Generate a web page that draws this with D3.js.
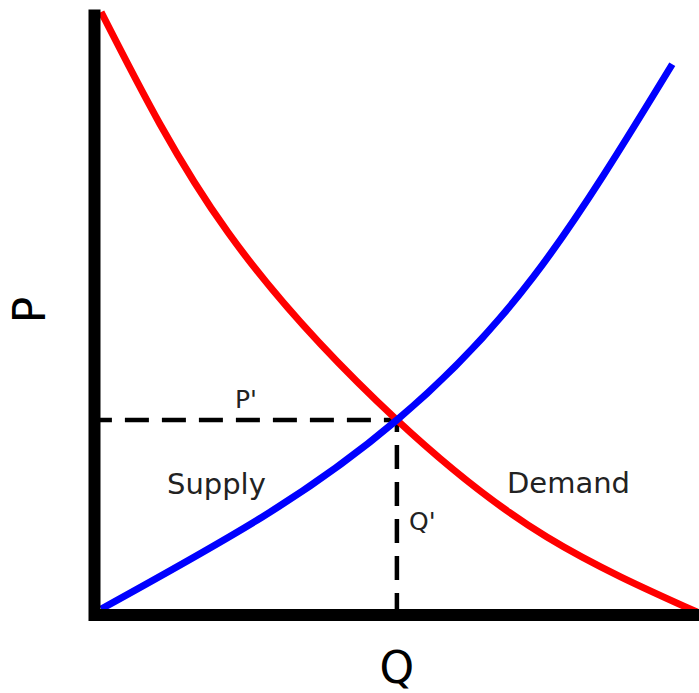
<!DOCTYPE html>
<html>
<head>
<meta charset="utf-8">
<script src="https://cdn.jsdelivr.net/npm/d3@7"></script>
<style>
  body { margin: 0; background: #fff; }
  text { font-family: "DejaVu Sans", sans-serif; }
</style>
</head>
<body>
<div id="vis"></div>
<script>
// Supply / demand diagram (arbitrary units 0..100)
var demandQ = [1.1, 22.3, 50.4, 75.4, 100.4];
var demandP = [100.5, 63.7, 32.5, 13.0, 0.5];

var supplyQ = [1.1, 27.9, 50.4, 73.1, 96.3];
var supplyP = [1.0, 16.3, 32.5, 56.3, 91.8];

var eqQ = 50.4, eqP = 32.5;   // equilibrium point
var axisLabels = ["Q", "P"];
var curveLabels = ["Supply", "Demand"];
var eqLabels = ["P'", "Q'"];

var width = 699, height = 693;

var x = d3.scaleLinear().domain([0, 100]).range([94.5, 694.5]);
var y = d3.scaleLinear().domain([0, 100]).range([615, 15]);

var svg = d3.select("#vis").append("svg")
    .attr("width", width)
    .attr("height", height);

var line = d3.line()
    .x(d => x(d[0]))
    .y(d => y(d[1]))
    .curve(d3.curveNatural);

// dashed guides from the equilibrium point back to each axis
svg.append("line")
    .attr("x1", x(eqQ)).attr("y1", y(eqP))
    .attr("x2", x(0)).attr("y2", y(eqP))
    .attr("stroke", "#000").attr("stroke-width", 4.5)
    .attr("stroke-dasharray", "24,13").attr("stroke-dashoffset", 11);
svg.append("line")
    .attr("x1", x(eqQ)).attr("y1", y(eqP))
    .attr("x2", x(eqQ)).attr("y2", y(0))
    .attr("stroke", "#000").attr("stroke-width", 4.5)
    .attr("stroke-dasharray", "24,13").attr("stroke-dashoffset", 12);

// the two curves
svg.append("path")
    .datum(demandQ.map((q, i) => [q, demandP[i]]))
    .attr("d", line)
    .attr("fill", "none").attr("stroke", "#ff0000").attr("stroke-width", 7);

svg.append("path")
    .datum(supplyQ.map((q, i) => [q, supplyP[i]]))
    .attr("d", line)
    .attr("fill", "none").attr("stroke", "#0000ff").attr("stroke-width", 7);

// axes (thick L shape)
svg.append("path")
    .attr("d", "M" + x(0) + "," + (y(100) - 5.5) + "V" + y(0) + "H" + (width + 10))
    .attr("fill", "none").attr("stroke", "#000").attr("stroke-width", 12)
    .attr("stroke-linejoin", "miter");

// axis titles
svg.append("text")
    .attr("x", x(eqQ)).attr("y", 683)
    .attr("text-anchor", "middle")
    .style("font-size", "44px")
    .text(axisLabels[0]);

svg.append("text")
    .attr("transform", "translate(45,310) rotate(-90)")
    .attr("text-anchor", "middle")
    .style("font-size", "44px")
    .text(axisLabels[1]);

// curve labels
svg.append("text")
    .attr("x", 167).attr("y", 494)
    .style("font-size", "29px").attr("fill", "#222")
    .text(curveLabels[0]);
svg.append("text")
    .attr("x", 507).attr("y", 493)
    .style("font-size", "29px").attr("fill", "#222")
    .text(curveLabels[1]);

// equilibrium labels
svg.append("text")
    .attr("x", 235).attr("y", 408)
    .style("font-size", "25px").attr("fill", "#222")
    .text(eqLabels[0]);
svg.append("text")
    .attr("x", 409).attr("y", 530)
    .style("font-size", "25px").attr("fill", "#222")
    .text(eqLabels[1]);
</script>
</body>
</html>
